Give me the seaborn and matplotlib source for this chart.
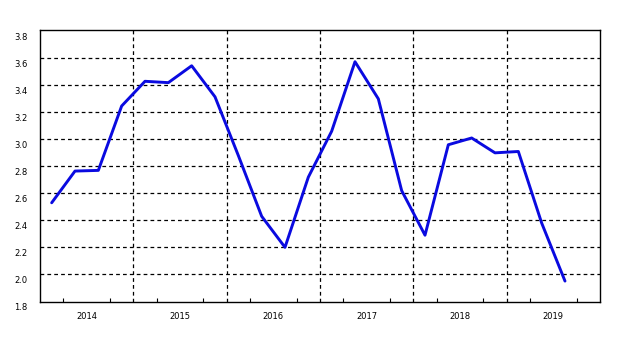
import matplotlib
matplotlib.use("Agg")
import matplotlib.pyplot as plt
import matplotlib.transforms as mtrans
import seaborn as sns
import pandas as pd
import numpy as np

years = [2014, 2015, 2016, 2017, 2018, 2019]
quarter_pos = [0.125, 0.375, 0.625, 0.875]
values = [2.53, 2.765, 2.77, 3.247, 3.43, 3.42, 3.545, 3.315,
          2.88, 2.43, 2.20, 2.72, 3.06, 3.575, 3.30, 2.62,
          2.29, 2.96, 3.01, 2.90, 2.91, 2.38, 1.95]
ytick_vals = [1.8, 2.0, 2.2, 2.4, 2.6, 2.8, 3.0, 3.2, 3.4, 3.6, 3.8]

xs = [y + q for y in years for q in quarter_pos][:len(values)]
df = pd.DataFrame({"t": xs, "v": values})

sns.set_style("white")
plt.rcParams['font.family'] = ['DejaVu Sans']

fig = plt.figure(figsize=(6.4, 3.6), dpi=100)
ax = fig.add_axes([40/640, 1 - 302/360, 560/640, 272/360])

sns.lineplot(data=df, x="t", y="v", ax=ax, color="#0a0ae0", linewidth=2.1)

ax.set_xlim(2014, 2020)
ax.set_ylim(1.795, 3.81)

for yv in ytick_vals[1:-1]:
    ax.axhline(yv, color="black", linestyle=(0, (3, 2.5)), linewidth=0.9, zorder=0)
for yr in years[1:]:
    ax.axvline(yr, color="black", linestyle=(0, (3, 2.5)), linewidth=0.9, zorder=0)

ax.set_yticks(ytick_vals)
ax.set_yticklabels([f"{v:.1f}" for v in ytick_vals], fontsize=6, color="black")
ax.tick_params(axis="y", length=0, pad=9)
off = mtrans.ScaledTranslation(0, -5/100, fig.dpi_scale_trans)
for lab in ax.get_yticklabels():
    lab.set_transform(lab.get_transform() + off)

ax.set_xticks([y + 0.5 for y in years])
ax.set_xticklabels([str(y) for y in years], fontsize=6, color="black")
ax.tick_params(axis="x", which="major", length=0, pad=7)
ax.set_xticks([y + q for y in years for q in (0.25, 0.5, 0.75)], minor=True)
ax.tick_params(axis="x", which="minor", bottom=True, direction="in",
               length=3, width=0.8, color="black")

for s in ax.spines.values():
    s.set_color("black")
    s.set_linewidth(1.0)

ax.set_xlabel("")
ax.set_ylabel("")
fig.savefig("out.png", dpi=100)
